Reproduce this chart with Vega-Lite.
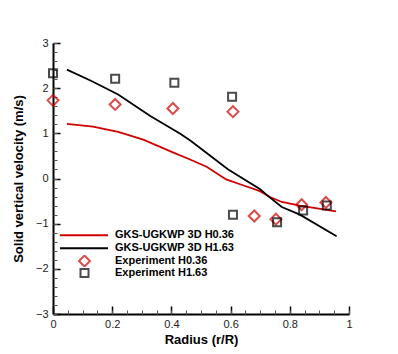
{
  "$schema": "https://vega.github.io/schema/vega-lite/v6.json",
  "width": 296,
  "height": 271,
  "autosize": "none",
  "padding": {"left": 53, "top": 43, "right": 49, "bottom": 40},
  "config": {"view": {"stroke": null}, "font": "Liberation Sans"},
  "datasets": {
    "model": [
      {"series": "GKS-UGKWP 3D H0.36", "r": 0.047, "v": 1.21},
      {"series": "GKS-UGKWP 3D H0.36", "r": 0.135, "v": 1.15},
      {"series": "GKS-UGKWP 3D H0.36", "r": 0.22, "v": 1.03},
      {"series": "GKS-UGKWP 3D H0.36", "r": 0.305, "v": 0.86},
      {"series": "GKS-UGKWP 3D H0.36", "r": 0.405, "v": 0.58},
      {"series": "GKS-UGKWP 3D H0.36", "r": 0.463, "v": 0.42},
      {"series": "GKS-UGKWP 3D H0.36", "r": 0.519, "v": 0.26},
      {"series": "GKS-UGKWP 3D H0.36", "r": 0.585, "v": -0.02},
      {"series": "GKS-UGKWP 3D H0.36", "r": 0.642, "v": -0.15},
      {"series": "GKS-UGKWP 3D H0.36", "r": 0.699, "v": -0.28},
      {"series": "GKS-UGKWP 3D H0.36", "r": 0.733, "v": -0.41},
      {"series": "GKS-UGKWP 3D H0.36", "r": 0.773, "v": -0.52},
      {"series": "GKS-UGKWP 3D H0.36", "r": 0.834, "v": -0.6},
      {"series": "GKS-UGKWP 3D H0.36", "r": 0.956, "v": -0.73},
      {"series": "GKS-UGKWP 3D H1.63", "r": 0.047, "v": 2.41},
      {"series": "GKS-UGKWP 3D H1.63", "r": 0.13, "v": 2.16},
      {"series": "GKS-UGKWP 3D H1.63", "r": 0.22, "v": 1.86},
      {"series": "GKS-UGKWP 3D H1.63", "r": 0.33, "v": 1.38},
      {"series": "GKS-UGKWP 3D H1.63", "r": 0.43, "v": 0.99},
      {"series": "GKS-UGKWP 3D H1.63", "r": 0.466, "v": 0.83},
      {"series": "GKS-UGKWP 3D H1.63", "r": 0.592, "v": 0.2},
      {"series": "GKS-UGKWP 3D H1.63", "r": 0.7, "v": -0.24},
      {"series": "GKS-UGKWP 3D H1.63", "r": 0.727, "v": -0.39},
      {"series": "GKS-UGKWP 3D H1.63", "r": 0.773, "v": -0.63},
      {"series": "GKS-UGKWP 3D H1.63", "r": 0.834, "v": -0.8},
      {"series": "GKS-UGKWP 3D H1.63", "r": 0.958, "v": -1.28}
    ],
    "exp": [
      {"series": "Experiment H0.36", "r": 0.0, "v": 1.73},
      {"series": "Experiment H0.36", "r": 0.21, "v": 1.64},
      {"series": "Experiment H0.36", "r": 0.405, "v": 1.55},
      {"series": "Experiment H0.36", "r": 0.608, "v": 1.48},
      {"series": "Experiment H0.36", "r": 0.68, "v": -0.83},
      {"series": "Experiment H0.36", "r": 0.753, "v": -0.9},
      {"series": "Experiment H0.36", "r": 0.84, "v": -0.58},
      {"series": "Experiment H0.36", "r": 0.922, "v": -0.53},
      {"series": "Experiment H1.63", "r": 0.0, "v": 2.33},
      {"series": "Experiment H1.63", "r": 0.21, "v": 2.21},
      {"series": "Experiment H1.63", "r": 0.41, "v": 2.12},
      {"series": "Experiment H1.63", "r": 0.605, "v": 1.81},
      {"series": "Experiment H1.63", "r": 0.608, "v": -0.8},
      {"series": "Experiment H1.63", "r": 0.757, "v": -0.97},
      {"series": "Experiment H1.63", "r": 0.845, "v": -0.71},
      {"series": "Experiment H1.63", "r": 0.925, "v": -0.6}
    ]
  },
  "layer": [
    {
      "data": {"name": "model"},
      "mark": {"type": "line", "strokeWidth": 1.8},
      "encoding": {
        "x": {
          "field": "r", "type": "quantitative",
          "scale": {"domain": [0, 1], "nice": false},
          "axis": {
            "orient": "bottom", "values": [0, 0.2, 0.4, 0.6, 0.8, 1], "format": "~g",
            "grid": false, "tickSize": -8, "tickWidth": 1.5, "tickColor": "black",
            "domainColor": "black", "domainWidth": 2,
            "labelFontSize": 11, "labelColor": "#222", "labelPadding": 12,
            "labelFlush": false,
            "title": "Radius (r/R)", "titleFontSize": 13, "titleFontWeight": "bold",
            "titleColor": "black", "titlePadding": 4
          }
        },
        "y": {
          "field": "v", "type": "quantitative",
          "scale": {"domain": [-3, 3], "nice": false},
          "axis": {
            "orient": "left", "values": [-3, -2, -1, 0, 1, 2, 3],
            "grid": false, "tickSize": -7, "tickWidth": 1.5, "tickColor": "black",
            "domainColor": "black", "domainWidth": 2,
            "labelFontSize": 11, "labelColor": "#222", "labelPadding": 12,
            "labelFlush": false,
            "title": "Solid vertical velocity (m/s)", "titleFontSize": 13,
            "titleFontWeight": "bold", "titleColor": "black", "titlePadding": 10
          }
        },
        "color": {
          "field": "series", "type": "nominal",
          "scale": {"domain": ["GKS-UGKWP 3D H0.36", "GKS-UGKWP 3D H1.63"], "range": ["#d00000", "#000000"]},
          "legend": {
            "title": null, "orient": "none", "legendX": 6, "legendY": 186,
            "symbolType": "stroke", "symbolSize": 2304, "symbolStrokeWidth": 1.8,
            "clipHeight": 12.5, "rowPadding": 0, "padding": 0,
            "labelFontSize": 11, "labelFontWeight": "bold", "labelColor": "black",
            "labelOffset": 6
          }
        }
      }
    },
    {
      "data": {"name": "exp"},
      "mark": {"type": "point", "filled": false, "strokeWidth": 2},
      "encoding": {
        "x": {
          "field": "r", "type": "quantitative",
          "axis": {
            "orient": "bottom",
            "values": [0, 0.05, 0.1, 0.15, 0.2, 0.25, 0.3, 0.35, 0.4, 0.45, 0.5, 0.55, 0.6, 0.65, 0.7, 0.75, 0.8, 0.85, 0.9, 0.95, 1],
            "labels": false, "domain": false, "grid": false, "title": null,
            "tickSize": -4, "tickColor": "#555", "tickWidth": 1
          }
        },
        "y": {
          "field": "v", "type": "quantitative",
          "axis": {
            "orient": "left",
            "values": [-3, -2.8, -2.6, -2.4, -2.2, -2, -1.8, -1.6, -1.4, -1.2, -1, -0.8, -0.6, -0.4, -0.2, 0, 0.2, 0.4, 0.6, 0.8, 1, 1.2, 1.4, 1.6, 1.8, 2, 2.2, 2.4, 2.6, 2.8, 3],
            "labels": false, "domain": false, "grid": false, "title": null,
            "tickSize": -4, "tickColor": "#555", "tickWidth": 1
          }
        },
        "stroke": {
          "field": "series", "type": "nominal",
          "scale": {"domain": ["Experiment H0.36", "Experiment H1.63"], "range": ["#d00000", "#000000"]},
          "legend": {
            "title": null, "orient": "none", "legendX": 25, "legendY": 212,
            "clipHeight": 12, "rowPadding": 0, "padding": 0, "symbolStrokeWidth": 2,
            "labelFontSize": 11, "labelFontWeight": "bold", "labelColor": "black",
            "labelOffset": 24
          }
        },
        "shape": {
          "field": "series", "type": "nominal",
          "scale": {"domain": ["Experiment H0.36", "Experiment H1.63"], "range": ["diamond", "square"]}
        },
        "size": {
          "field": "series", "type": "nominal",
          "scale": {"domain": ["Experiment H0.36", "Experiment H1.63"], "range": [120, 64]}
        }
      }
    }
  ],
  "resolve": {"axis": {"x": "independent", "y": "independent"}}
}
